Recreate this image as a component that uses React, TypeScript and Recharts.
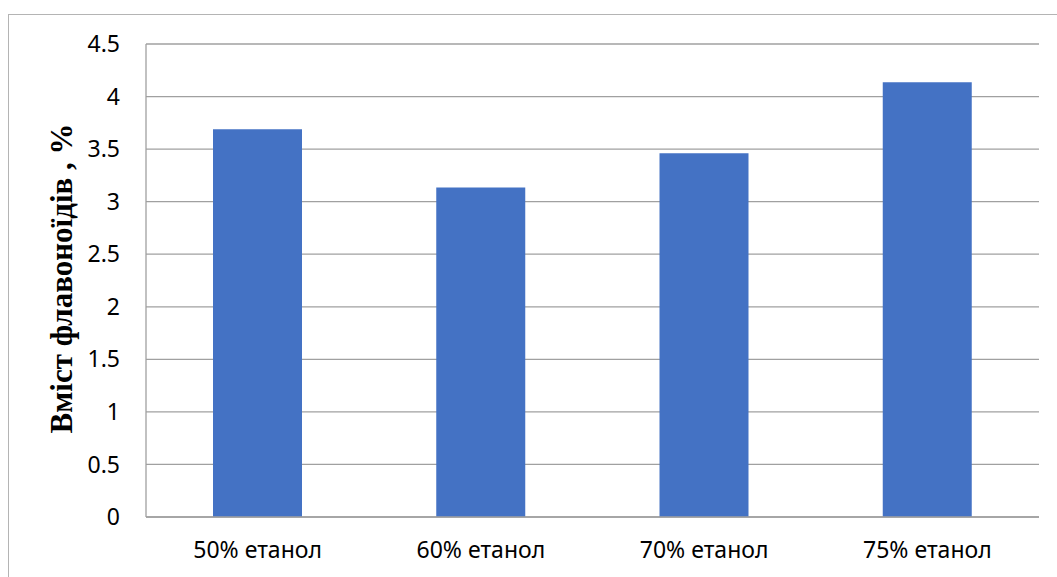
import React from 'react';
import { BarChart, Bar, XAxis, YAxis, CartesianGrid, Label } from 'recharts';

const categories = ['50% етанол', '60% етанол', '70% етанол', '75% етанол'];
const values = [3.69, 3.135, 3.46, 4.135];
const yTicks = [0, 0.5, 1, 1.5, 2, 2.5, 3, 3.5, 4, 4.5];
const yTitle = 'Вміст флавоноїдів , %';

const data = categories.map((c, i) => ({ name: c, value: values[i] }));

const YTitle = (props: any) => {
  const vb = props.viewBox || { x: 0, y: 0, width: 0, height: 0 };
  const cx = vb.x + 35;
  const cy = vb.y + vb.height / 2 - 2;
  return (
    <text
      x={cx}
      y={cy}
      transform={`rotate(-90 ${cx} ${cy})`}
      textAnchor="middle"
      dominantBaseline="central"
      fontFamily="'Liberation Serif', 'Times New Roman', serif"
      fontWeight="bold"
      fontSize={31}
      fill="#000"
    >
      {yTitle}
    </text>
  );
};

export default function App() {
  return (
    <div style={{ position: 'absolute', left: 0, top: 0, width: 1057, height: 577, overflow: 'hidden', background: '#fff' }}>
      <div style={{ position: 'absolute', left: 8, top: 14, width: 1100, height: 700, border: '1px solid #b4b4b4', boxSizing: 'border-box' }} />
      <div style={{ position: 'absolute', left: 0, top: 0 }}>
        <BarChart
          width={1057}
          height={577}
          data={data}
          margin={{ top: 44, right: 18, bottom: 30, left: 26 }}
          barCategoryGap="20%"
        >
          <CartesianGrid vertical={false} stroke="#a0a0a0" strokeWidth={1.3} />
          <XAxis
            dataKey="name"
            height={30}
            axisLine={{ stroke: '#a0a0a0', strokeWidth: 1.3 }}
            tickLine={false}
            tickMargin={19}
            tick={{ fill: '#000', fontSize: 23, fontFamily: "'Noto Sans', sans-serif" }}
            interval={0}
          />
          <YAxis
            width={120}
            domain={[0, 4.5]}
            ticks={yTicks}
            axisLine={{ stroke: '#a0a0a0', strokeWidth: 1.3 }}
            tickLine={false}
            tickMargin={20}
            tick={{ fill: '#000', fontSize: 23, fontFamily: "'Noto Sans', sans-serif" }}
          >
            <Label content={<YTitle />} />
          </YAxis>
          <Bar dataKey="value" fill="#4472C4" barSize={89} isAnimationActive={false} />
        </BarChart>
      </div>
    </div>
  );
}
